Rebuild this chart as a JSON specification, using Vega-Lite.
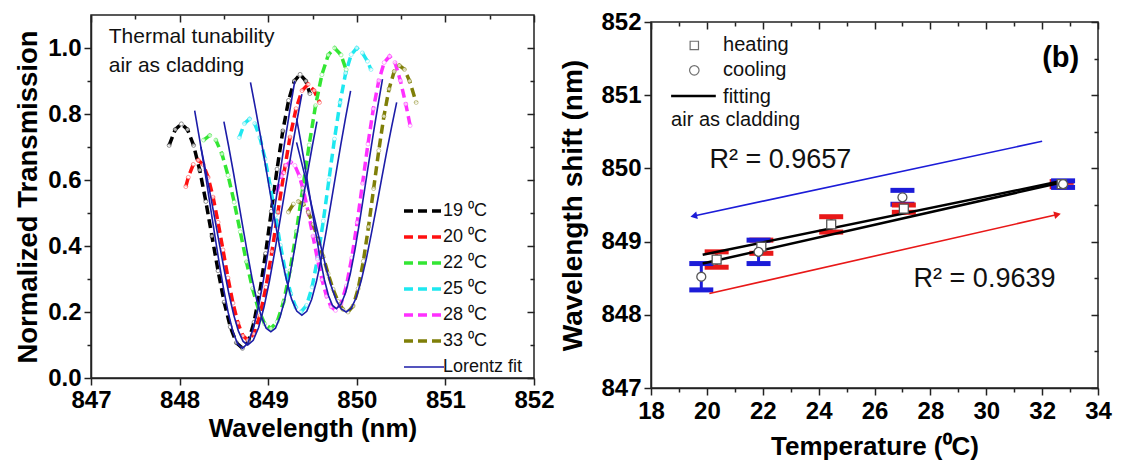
{
  "$schema": "https://vega.github.io/schema/vega-lite/v6.json",
  "padding": {"left": 13, "top": 9, "right": 0, "bottom": 0},
  "spacing": 4,
  "resolve": {"scale": {"color": "independent", "shape": "independent", "stroke": "independent"}, "legend": {"color": "independent"}},
  "datasets": {
    "spectra": [
      {"s":"19 ⁰C","c":"d19","w":847.882,"t":0.705},{"s":"19 ⁰C","c":"d19","w":847.951,"t":0.753},{"s":"19 ⁰C","c":"d19","w":848.020,"t":0.770},{"s":"19 ⁰C","c":"d19","w":848.089,"t":0.753},{"s":"19 ⁰C","c":"d19","w":848.158,"t":0.705},{"s":"19 ⁰C","c":"d19","w":848.227,"t":0.630},{"s":"19 ⁰C","c":"d19","w":848.296,"t":0.535},{"s":"19 ⁰C","c":"d19","w":848.365,"t":0.430},{"s":"19 ⁰C","c":"d19","w":848.434,"t":0.325},{"s":"19 ⁰C","c":"d19","w":848.503,"t":0.230},{"s":"19 ⁰C","c":"d19","w":848.572,"t":0.155},{"s":"19 ⁰C","c":"d19","w":848.641,"t":0.107},{"s":"19 ⁰C","c":"d19","w":848.710,"t":0.090},{"s":"19 ⁰C","c":"d19","w":848.775,"t":0.110},{"s":"19 ⁰C","c":"d19","w":848.840,"t":0.169},{"s":"19 ⁰C","c":"d19","w":848.905,"t":0.261},{"s":"19 ⁰C","c":"d19","w":848.970,"t":0.377},{"s":"19 ⁰C","c":"d19","w":849.035,"t":0.505},{"s":"19 ⁰C","c":"d19","w":849.100,"t":0.633},{"s":"19 ⁰C","c":"d19","w":849.165,"t":0.749},{"s":"19 ⁰C","c":"d19","w":849.230,"t":0.841},{"s":"19 ⁰C","c":"d19","w":849.295,"t":0.900},{"s":"19 ⁰C","c":"d19","w":849.360,"t":0.920},{"s":"19 ⁰C","c":"d19","w":849.425,"t":0.900},{"s":"19 ⁰C","c":"d19","w":849.470,"t":0.862},
      {"s":"20 ⁰C","c":"d20","w":848.070,"t":0.580},{"s":"20 ⁰C","c":"d20","w":848.098,"t":0.608},{"s":"20 ⁰C","c":"d20","w":848.154,"t":0.647},{"s":"20 ⁰C","c":"d20","w":848.210,"t":0.660},{"s":"20 ⁰C","c":"d20","w":848.266,"t":0.647},{"s":"20 ⁰C","c":"d20","w":848.322,"t":0.608},{"s":"20 ⁰C","c":"d20","w":848.378,"t":0.548},{"s":"20 ⁰C","c":"d20","w":848.434,"t":0.472},{"s":"20 ⁰C","c":"d20","w":848.490,"t":0.388},{"s":"20 ⁰C","c":"d20","w":848.546,"t":0.303},{"s":"20 ⁰C","c":"d20","w":848.602,"t":0.227},{"s":"20 ⁰C","c":"d20","w":848.658,"t":0.167},{"s":"20 ⁰C","c":"d20","w":848.714,"t":0.128},{"s":"20 ⁰C","c":"d20","w":848.770,"t":0.115},{"s":"20 ⁰C","c":"d20","w":848.838,"t":0.134},{"s":"20 ⁰C","c":"d20","w":848.906,"t":0.189},{"s":"20 ⁰C","c":"d20","w":848.974,"t":0.275},{"s":"20 ⁰C","c":"d20","w":849.042,"t":0.383},{"s":"20 ⁰C","c":"d20","w":849.110,"t":0.503},{"s":"20 ⁰C","c":"d20","w":849.178,"t":0.622},{"s":"20 ⁰C","c":"d20","w":849.246,"t":0.730},{"s":"20 ⁰C","c":"d20","w":849.314,"t":0.816},{"s":"20 ⁰C","c":"d20","w":849.382,"t":0.871},{"s":"20 ⁰C","c":"d20","w":849.450,"t":0.890},{"s":"20 ⁰C","c":"d20","w":849.518,"t":0.871},{"s":"20 ⁰C","c":"d20","w":849.579,"t":0.835},
      {"s":"22 ⁰C","c":"d22","w":848.271,"t":0.721},{"s":"22 ⁰C","c":"d22","w":848.340,"t":0.735},{"s":"22 ⁰C","c":"d22","w":848.409,"t":0.721},{"s":"22 ⁰C","c":"d22","w":848.478,"t":0.679},{"s":"22 ⁰C","c":"d22","w":848.547,"t":0.614},{"s":"22 ⁰C","c":"d22","w":848.616,"t":0.533},{"s":"22 ⁰C","c":"d22","w":848.685,"t":0.443},{"s":"22 ⁰C","c":"d22","w":848.754,"t":0.352},{"s":"22 ⁰C","c":"d22","w":848.823,"t":0.271},{"s":"22 ⁰C","c":"d22","w":848.892,"t":0.206},{"s":"22 ⁰C","c":"d22","w":848.961,"t":0.164},{"s":"22 ⁰C","c":"d22","w":849.030,"t":0.150},{"s":"22 ⁰C","c":"d22","w":849.102,"t":0.171},{"s":"22 ⁰C","c":"d22","w":849.174,"t":0.231},{"s":"22 ⁰C","c":"d22","w":849.246,"t":0.325},{"s":"22 ⁰C","c":"d22","w":849.318,"t":0.444},{"s":"22 ⁰C","c":"d22","w":849.390,"t":0.575},{"s":"22 ⁰C","c":"d22","w":849.462,"t":0.706},{"s":"22 ⁰C","c":"d22","w":849.534,"t":0.825},{"s":"22 ⁰C","c":"d22","w":849.606,"t":0.919},{"s":"22 ⁰C","c":"d22","w":849.678,"t":0.979},{"s":"22 ⁰C","c":"d22","w":849.750,"t":1.000},{"s":"22 ⁰C","c":"d22","w":849.822,"t":0.979},{"s":"22 ⁰C","c":"d22","w":849.880,"t":0.934},
      {"s":"25 ⁰C","c":"d25","w":848.674,"t":0.729},{"s":"25 ⁰C","c":"d25","w":848.732,"t":0.771},{"s":"25 ⁰C","c":"d25","w":848.790,"t":0.785},{"s":"25 ⁰C","c":"d25","w":848.848,"t":0.771},{"s":"25 ⁰C","c":"d25","w":848.906,"t":0.729},{"s":"25 ⁰C","c":"d25","w":848.964,"t":0.664},{"s":"25 ⁰C","c":"d25","w":849.022,"t":0.583},{"s":"25 ⁰C","c":"d25","w":849.080,"t":0.493},{"s":"25 ⁰C","c":"d25","w":849.138,"t":0.402},{"s":"25 ⁰C","c":"d25","w":849.196,"t":0.321},{"s":"25 ⁰C","c":"d25","w":849.254,"t":0.256},{"s":"25 ⁰C","c":"d25","w":849.312,"t":0.214},{"s":"25 ⁰C","c":"d25","w":849.370,"t":0.200},{"s":"25 ⁰C","c":"d25","w":849.433,"t":0.220},{"s":"25 ⁰C","c":"d25","w":849.496,"t":0.276},{"s":"25 ⁰C","c":"d25","w":849.559,"t":0.365},{"s":"25 ⁰C","c":"d25","w":849.622,"t":0.476},{"s":"25 ⁰C","c":"d25","w":849.685,"t":0.600},{"s":"25 ⁰C","c":"d25","w":849.748,"t":0.724},{"s":"25 ⁰C","c":"d25","w":849.811,"t":0.835},{"s":"25 ⁰C","c":"d25","w":849.874,"t":0.924},{"s":"25 ⁰C","c":"d25","w":849.937,"t":0.980},{"s":"25 ⁰C","c":"d25","w":850.000,"t":1.000},{"s":"25 ⁰C","c":"d25","w":850.063,"t":0.985},{"s":"25 ⁰C","c":"d25","w":850.120,"t":0.960},{"s":"25 ⁰C","c":"d25","w":850.160,"t":0.935},
      {"s":"28 ⁰C","c":"d28","w":849.097,"t":0.562},{"s":"28 ⁰C","c":"d28","w":849.148,"t":0.612},{"s":"28 ⁰C","c":"d28","w":849.199,"t":0.644},{"s":"28 ⁰C","c":"d28","w":849.250,"t":0.655},{"s":"28 ⁰C","c":"d28","w":849.301,"t":0.644},{"s":"28 ⁰C","c":"d28","w":849.352,"t":0.612},{"s":"28 ⁰C","c":"d28","w":849.403,"t":0.562},{"s":"28 ⁰C","c":"d28","w":849.454,"t":0.500},{"s":"28 ⁰C","c":"d28","w":849.505,"t":0.430},{"s":"28 ⁰C","c":"d28","w":849.556,"t":0.360},{"s":"28 ⁰C","c":"d28","w":849.607,"t":0.298},{"s":"28 ⁰C","c":"d28","w":849.658,"t":0.248},{"s":"28 ⁰C","c":"d28","w":849.709,"t":0.216},{"s":"28 ⁰C","c":"d28","w":849.760,"t":0.205},{"s":"28 ⁰C","c":"d28","w":849.821,"t":0.224},{"s":"28 ⁰C","c":"d28","w":849.882,"t":0.279},{"s":"28 ⁰C","c":"d28","w":849.943,"t":0.364},{"s":"28 ⁰C","c":"d28","w":850.004,"t":0.471},{"s":"28 ⁰C","c":"d28","w":850.065,"t":0.590},{"s":"28 ⁰C","c":"d28","w":850.126,"t":0.709},{"s":"28 ⁰C","c":"d28","w":850.187,"t":0.816},{"s":"28 ⁰C","c":"d28","w":850.248,"t":0.901},{"s":"28 ⁰C","c":"d28","w":850.309,"t":0.956},{"s":"28 ⁰C","c":"d28","w":850.370,"t":0.975},{"s":"28 ⁰C","c":"d28","w":850.431,"t":0.956},{"s":"28 ⁰C","c":"d28","w":850.492,"t":0.901},{"s":"28 ⁰C","c":"d28","w":850.553,"t":0.830},{"s":"28 ⁰C","c":"d28","w":850.602,"t":0.765},
      {"s":"33 ⁰C","c":"d33","w":849.228,"t":0.503},{"s":"33 ⁰C","c":"d33","w":849.284,"t":0.527},{"s":"33 ⁰C","c":"d33","w":849.340,"t":0.535},{"s":"33 ⁰C","c":"d33","w":849.396,"t":0.527},{"s":"33 ⁰C","c":"d33","w":849.452,"t":0.503},{"s":"33 ⁰C","c":"d33","w":849.508,"t":0.466},{"s":"33 ⁰C","c":"d33","w":849.564,"t":0.419},{"s":"33 ⁰C","c":"d33","w":849.620,"t":0.368},{"s":"33 ⁰C","c":"d33","w":849.676,"t":0.316},{"s":"33 ⁰C","c":"d33","w":849.732,"t":0.269},{"s":"33 ⁰C","c":"d33","w":849.788,"t":0.232},{"s":"33 ⁰C","c":"d33","w":849.844,"t":0.208},{"s":"33 ⁰C","c":"d33","w":849.900,"t":0.200},{"s":"33 ⁰C","c":"d33","w":849.958,"t":0.218},{"s":"33 ⁰C","c":"d33","w":850.016,"t":0.271},{"s":"33 ⁰C","c":"d33","w":850.074,"t":0.354},{"s":"33 ⁰C","c":"d33","w":850.132,"t":0.458},{"s":"33 ⁰C","c":"d33","w":850.190,"t":0.574},{"s":"33 ⁰C","c":"d33","w":850.248,"t":0.689},{"s":"33 ⁰C","c":"d33","w":850.306,"t":0.793},{"s":"33 ⁰C","c":"d33","w":850.364,"t":0.876},{"s":"33 ⁰C","c":"d33","w":850.422,"t":0.929},{"s":"33 ⁰C","c":"d33","w":850.480,"t":0.947},{"s":"33 ⁰C","c":"d33","w":850.538,"t":0.935},{"s":"33 ⁰C","c":"d33","w":850.596,"t":0.900},{"s":"33 ⁰C","c":"d33","w":850.670,"t":0.835},
      {"s":"Lorentz fit","c":"f19","w":848.170,"t":0.810},{"s":"Lorentz fit","c":"f19","w":848.224,"t":0.726},{"s":"Lorentz fit","c":"f19","w":848.278,"t":0.639},{"s":"Lorentz fit","c":"f19","w":848.332,"t":0.546},{"s":"Lorentz fit","c":"f19","w":848.386,"t":0.452},{"s":"Lorentz fit","c":"f19","w":848.440,"t":0.360},{"s":"Lorentz fit","c":"f19","w":848.494,"t":0.274},{"s":"Lorentz fit","c":"f19","w":848.548,"t":0.199},{"s":"Lorentz fit","c":"f19","w":848.602,"t":0.140},{"s":"Lorentz fit","c":"f19","w":848.656,"t":0.103},{"s":"Lorentz fit","c":"f19","w":848.710,"t":0.090},{"s":"Lorentz fit","c":"f19","w":848.769,"t":0.105},{"s":"Lorentz fit","c":"f19","w":848.828,"t":0.147},{"s":"Lorentz fit","c":"f19","w":848.887,"t":0.212},{"s":"Lorentz fit","c":"f19","w":848.946,"t":0.297},{"s":"Lorentz fit","c":"f19","w":849.005,"t":0.394},{"s":"Lorentz fit","c":"f19","w":849.064,"t":0.497},{"s":"Lorentz fit","c":"f19","w":849.123,"t":0.603},{"s":"Lorentz fit","c":"f19","w":849.182,"t":0.707},{"s":"Lorentz fit","c":"f19","w":849.241,"t":0.806},{"s":"Lorentz fit","c":"f19","w":849.300,"t":0.900},
      {"s":"Lorentz fit","c":"f20","w":848.240,"t":0.700},{"s":"Lorentz fit","c":"f20","w":848.293,"t":0.630},{"s":"Lorentz fit","c":"f20","w":848.346,"t":0.557},{"s":"Lorentz fit","c":"f20","w":848.399,"t":0.480},{"s":"Lorentz fit","c":"f20","w":848.452,"t":0.402},{"s":"Lorentz fit","c":"f20","w":848.505,"t":0.325},{"s":"Lorentz fit","c":"f20","w":848.558,"t":0.253},{"s":"Lorentz fit","c":"f20","w":848.611,"t":0.191},{"s":"Lorentz fit","c":"f20","w":848.664,"t":0.142},{"s":"Lorentz fit","c":"f20","w":848.717,"t":0.111},{"s":"Lorentz fit","c":"f20","w":848.770,"t":0.100},{"s":"Lorentz fit","c":"f20","w":848.831,"t":0.114},{"s":"Lorentz fit","c":"f20","w":848.892,"t":0.153},{"s":"Lorentz fit","c":"f20","w":848.953,"t":0.215},{"s":"Lorentz fit","c":"f20","w":849.014,"t":0.294},{"s":"Lorentz fit","c":"f20","w":849.075,"t":0.385},{"s":"Lorentz fit","c":"f20","w":849.136,"t":0.482},{"s":"Lorentz fit","c":"f20","w":849.197,"t":0.581},{"s":"Lorentz fit","c":"f20","w":849.258,"t":0.679},{"s":"Lorentz fit","c":"f20","w":849.319,"t":0.772},{"s":"Lorentz fit","c":"f20","w":849.380,"t":0.860},
      {"s":"Lorentz fit","c":"f22","w":848.500,"t":0.777},{"s":"Lorentz fit","c":"f22","w":848.553,"t":0.703},{"s":"Lorentz fit","c":"f22","w":848.606,"t":0.625},{"s":"Lorentz fit","c":"f22","w":848.659,"t":0.543},{"s":"Lorentz fit","c":"f22","w":848.712,"t":0.460},{"s":"Lorentz fit","c":"f22","w":848.765,"t":0.379},{"s":"Lorentz fit","c":"f22","w":848.818,"t":0.302},{"s":"Lorentz fit","c":"f22","w":848.871,"t":0.236},{"s":"Lorentz fit","c":"f22","w":848.924,"t":0.185},{"s":"Lorentz fit","c":"f22","w":848.977,"t":0.151},{"s":"Lorentz fit","c":"f22","w":849.030,"t":0.140},{"s":"Lorentz fit","c":"f22","w":849.082,"t":0.151},{"s":"Lorentz fit","c":"f22","w":849.134,"t":0.185},{"s":"Lorentz fit","c":"f22","w":849.186,"t":0.236},{"s":"Lorentz fit","c":"f22","w":849.238,"t":0.302},{"s":"Lorentz fit","c":"f22","w":849.290,"t":0.379},{"s":"Lorentz fit","c":"f22","w":849.342,"t":0.460},{"s":"Lorentz fit","c":"f22","w":849.394,"t":0.543},{"s":"Lorentz fit","c":"f22","w":849.446,"t":0.625},{"s":"Lorentz fit","c":"f22","w":849.498,"t":0.703},{"s":"Lorentz fit","c":"f22","w":849.550,"t":0.777},
      {"s":"Lorentz fit","c":"f25","w":848.800,"t":0.896},{"s":"Lorentz fit","c":"f25","w":848.858,"t":0.814},{"s":"Lorentz fit","c":"f25","w":848.916,"t":0.728},{"s":"Lorentz fit","c":"f25","w":848.974,"t":0.637},{"s":"Lorentz fit","c":"f25","w":849.032,"t":0.545},{"s":"Lorentz fit","c":"f25","w":849.090,"t":0.455},{"s":"Lorentz fit","c":"f25","w":849.148,"t":0.370},{"s":"Lorentz fit","c":"f25","w":849.206,"t":0.297},{"s":"Lorentz fit","c":"f25","w":849.264,"t":0.239},{"s":"Lorentz fit","c":"f25","w":849.322,"t":0.203},{"s":"Lorentz fit","c":"f25","w":849.380,"t":0.190},{"s":"Lorentz fit","c":"f25","w":849.435,"t":0.202},{"s":"Lorentz fit","c":"f25","w":849.490,"t":0.238},{"s":"Lorentz fit","c":"f25","w":849.545,"t":0.293},{"s":"Lorentz fit","c":"f25","w":849.600,"t":0.363},{"s":"Lorentz fit","c":"f25","w":849.655,"t":0.445},{"s":"Lorentz fit","c":"f25","w":849.710,"t":0.532},{"s":"Lorentz fit","c":"f25","w":849.765,"t":0.620},{"s":"Lorentz fit","c":"f25","w":849.820,"t":0.708},{"s":"Lorentz fit","c":"f25","w":849.875,"t":0.791},{"s":"Lorentz fit","c":"f25","w":849.930,"t":0.870},
      {"s":"Lorentz fit","c":"f28","w":849.320,"t":0.787},{"s":"Lorentz fit","c":"f28","w":849.365,"t":0.720},{"s":"Lorentz fit","c":"f28","w":849.410,"t":0.650},{"s":"Lorentz fit","c":"f28","w":849.455,"t":0.575},{"s":"Lorentz fit","c":"f28","w":849.500,"t":0.500},{"s":"Lorentz fit","c":"f28","w":849.545,"t":0.426},{"s":"Lorentz fit","c":"f28","w":849.590,"t":0.357},{"s":"Lorentz fit","c":"f28","w":849.635,"t":0.297},{"s":"Lorentz fit","c":"f28","w":849.680,"t":0.250},{"s":"Lorentz fit","c":"f28","w":849.725,"t":0.220},{"s":"Lorentz fit","c":"f28","w":849.770,"t":0.210},{"s":"Lorentz fit","c":"f28","w":849.822,"t":0.223},{"s":"Lorentz fit","c":"f28","w":849.874,"t":0.259},{"s":"Lorentz fit","c":"f28","w":849.926,"t":0.315},{"s":"Lorentz fit","c":"f28","w":849.978,"t":0.387},{"s":"Lorentz fit","c":"f28","w":850.030,"t":0.471},{"s":"Lorentz fit","c":"f28","w":850.082,"t":0.560},{"s":"Lorentz fit","c":"f28","w":850.134,"t":0.651},{"s":"Lorentz fit","c":"f28","w":850.186,"t":0.740},{"s":"Lorentz fit","c":"f28","w":850.238,"t":0.825},{"s":"Lorentz fit","c":"f28","w":850.290,"t":0.906},
      {"s":"Lorentz fit","c":"f33","w":849.320,"t":0.714},{"s":"Lorentz fit","c":"f33","w":849.376,"t":0.654},{"s":"Lorentz fit","c":"f33","w":849.432,"t":0.592},{"s":"Lorentz fit","c":"f33","w":849.488,"t":0.525},{"s":"Lorentz fit","c":"f33","w":849.544,"t":0.459},{"s":"Lorentz fit","c":"f33","w":849.600,"t":0.393},{"s":"Lorentz fit","c":"f33","w":849.656,"t":0.331},{"s":"Lorentz fit","c":"f33","w":849.712,"t":0.278},{"s":"Lorentz fit","c":"f33","w":849.768,"t":0.236},{"s":"Lorentz fit","c":"f33","w":849.824,"t":0.209},{"s":"Lorentz fit","c":"f33","w":849.880,"t":0.200},{"s":"Lorentz fit","c":"f33","w":849.937,"t":0.211},{"s":"Lorentz fit","c":"f33","w":849.994,"t":0.244},{"s":"Lorentz fit","c":"f33","w":850.051,"t":0.296},{"s":"Lorentz fit","c":"f33","w":850.108,"t":0.362},{"s":"Lorentz fit","c":"f33","w":850.165,"t":0.438},{"s":"Lorentz fit","c":"f33","w":850.222,"t":0.519},{"s":"Lorentz fit","c":"f33","w":850.279,"t":0.602},{"s":"Lorentz fit","c":"f33","w":850.336,"t":0.684},{"s":"Lorentz fit","c":"f33","w":850.393,"t":0.761},{"s":"Lorentz fit","c":"f33","w":850.450,"t":0.835}
    ],
    "errs": [
      {"m":"heating","temp":20.35,"lo":848.65,"hi":848.86,"mean":848.755},
      {"m":"heating","temp":21.95,"lo":848.84,"hi":849.02,"mean":848.93},
      {"m":"heating","temp":24.45,"lo":849.13,"hi":849.34,"mean":849.235},
      {"m":"heating","temp":27.05,"lo":849.40,"hi":849.50,"mean":849.45},
      {"m":"heating","temp":32.7,"lo":849.75,"hi":849.82,"mean":849.785},
      {"m":"cooling","temp":19.8,"lo":848.34,"hi":848.70,"mean":848.52},
      {"m":"cooling","temp":21.85,"lo":848.70,"hi":849.02,"mean":848.86},
      {"m":"cooling","temp":27.0,"lo":849.51,"hi":849.70,"mean":849.605},
      {"m":"cooling","temp":32.75,"lo":849.74,"hi":849.83,"mean":849.785}
    ],
    "fits": [
      {"f":"heating","temp":19.85,"w":848.70},{"f":"heating","temp":32.73,"w":849.81},
      {"f":"cooling","temp":19.85,"w":848.82},{"f":"cooling","temp":32.73,"w":849.83}
    ],
    "arrows": [
      {"m":"cooling","t0":32.0,"w0":850.37,"t1":19.53,"w1":849.35},
      {"m":"heating","t0":20.09,"w0":848.29,"t1":32.55,"w1":849.37}
    ]
  },
  "hconcat": [
    {
      "width": 443,
      "height": 363,
      "data": {"name": "spectra"},
      "resolve": {"axis": {"x": "independent", "y": "independent"}},
      "layer": [
        {
          "transform": [{"filter": "datum.s != 'Lorentz fit'"}],
          "mark": {"type": "line", "strokeWidth": 3.5, "strokeDash": [9, 5]},
          "encoding": {
            "x": {"field": "w", "type": "quantitative", "scale": {"domain": [847, 852], "nice": false, "zero": false},
              "axis": {"orient": "bottom", "values": [847,847.5,848,848.5,849,849.5,850,850.5,851,851.5,852], "format": "d", "labelExpr": "datum.value % 1 == 0 ? datum.label : ''", "tickSize": {"condition": {"test": "datum.value % 1 != 0", "value": 4}, "value": 7}, "labelPadding": 3, "labelOverlap": false, "labelFlush": false, "title": "Wavelength (nm)", "titleFontSize": 26, "titlePadding": 3}},
            "y": {"field": "t", "type": "quantitative", "scale": {"domain": [0, 1.1], "nice": false, "zero": false},
              "axis": {"orient": "left", "values": [0,0.1,0.2,0.3,0.4,0.5,0.6,0.7,0.8,0.9,1.0], "labelExpr": "round(datum.value*10) % 2 == 0 ? format(datum.value, '.1f') : ''", "tickSize": {"condition": {"test": "round(datum.value*10) % 2 != 0", "value": 4}, "value": 7}, "labelPadding": 3, "labelOverlap": false, "title": "Normalized Transmission", "titleFontSize": 27.5, "titlePadding": 5}},
            "color": {"field": "s", "type": "nominal",
              "scale": {"domain": ["19 ⁰C","20 ⁰C","22 ⁰C","25 ⁰C","28 ⁰C","33 ⁰C","Lorentz fit"], "range": ["#000000","#ff1010","#33e633","#1ee8f0","#ff30ff","#7f7f08","#1c1ca8"]},
              "legend": {"title": null, "orient": "none", "legendX": 324, "legendY": 187, "symbolType": "M-1.6,0L1.6,0", "symbolSize": 625, "symbolStrokeWidth": 3.5, "labelFontSize": 18, "labelFont": "Liberation Sans", "labelColor": "#111", "labelOffset": 10, "rowPadding": 8, "padding": 0,
                "encode": {"symbols": {"update": {"strokeDash": {"signal": "datum.value == 'Lorentz fit' ? [1,0] : [9,5]"}, "strokeWidth": {"signal": "datum.value == 'Lorentz fit' ? 1.5 : 3.5"}}}}}},
            "detail": {"field": "c"}
          }
        },
        {
          "transform": [{"filter": "datum.s != 'Lorentz fit'"}],
          "mark": {"type": "point", "filled": true, "fill": "#ffffff", "size": 16, "strokeWidth": 1, "strokeOpacity": 0.6},
          "encoding": {
            "x": {"field": "w", "type": "quantitative", "axis": null},
            "y": {"field": "t", "type": "quantitative", "axis": null},
            "stroke": {"field": "s", "type": "nominal", "legend": null,
              "scale": {"domain": ["19 ⁰C","20 ⁰C","22 ⁰C","25 ⁰C","28 ⁰C","33 ⁰C","Lorentz fit"], "range": ["#000000","#ff1010","#33e633","#1ee8f0","#ff30ff","#7f7f08","#1c1ca8"]}}
          }
        },
        {
          "transform": [{"filter": "datum.s == 'Lorentz fit'"}],
          "mark": {"type": "line", "strokeWidth": 1.6},
          "encoding": {
            "x": {"field": "w", "type": "quantitative", "axis": null},
            "y": {"field": "t", "type": "quantitative", "axis": null},
            "color": {"field": "s", "type": "nominal"},
            "detail": {"field": "c"}
          }
        },
        {
          "data": {"values": [{}]},
          "mark": {"type": "text", "text": ["Thermal tunability", "air as cladding"], "align": "left", "baseline": "alphabetic", "fontSize": 21, "lineHeight": 29, "font": "Liberation Sans", "color": "#111"},
          "encoding": {
            "x": {"datum": 847.2, "type": "quantitative",
              "axis": {"orient": "top", "values": [847,847.5,848,848.5,849,849.5,850,850.5,851,851.5,852], "labels": false, "domain": false, "title": null, "tickSize": {"condition": {"test": "datum.value % 1 != 0", "value": -4}, "value": -7}}},
            "y": {"datum": 1.015, "type": "quantitative",
              "axis": {"orient": "right", "values": [0,0.1,0.2,0.3,0.4,0.5,0.6,0.7,0.8,0.9,1.0], "labels": false, "domain": false, "title": null, "tickSize": {"condition": {"test": "round(datum.value*10) % 2 != 0", "value": -4}, "value": -7}}}
          }
        }
      ]
    },
    {
      "vconcat": [
        {
          "width": 447,
          "height": 1,
          "view": {"stroke": null},
          "data": {"values": [{}]},
          "mark": {"type": "text", "text": ""}
        },
        {
          "width": 447,
          "height": 366,
          "resolve": {"axis": {"x": "independent", "y": "independent"}},
          "layer": [
            {
              "data": {"name": "errs"},
              "mark": {"type": "rule", "strokeWidth": 3},
              "encoding": {
                "x": {"field": "temp", "type": "quantitative", "scale": {"domain": [18, 34], "nice": false, "zero": false},
                  "axis": {"orient": "bottom", "values": [18,19,20,21,22,23,24,25,26,27,28,29,30,31,32,33,34], "labelExpr": "datum.value % 2 == 0 ? datum.label : ''", "tickSize": {"condition": {"test": "datum.value % 2 != 0", "value": 4}, "value": 7}, "labelPadding": 4, "labelOverlap": false, "labelFlush": false, "title": "Temperature (⁰C)", "titleFontSize": 26, "titlePadding": 10}},
                "y": {"field": "lo", "type": "quantitative", "scale": {"domain": [847, 852], "nice": false, "zero": false},
                  "axis": {"orient": "left", "values": [847,847.5,848,848.5,849,849.5,850,850.5,851,851.5,852], "format": "d", "labelExpr": "datum.value % 1 == 0 ? datum.label : ''", "tickSize": {"condition": {"test": "datum.value % 1 != 0", "value": 4}, "value": 7}, "labelPadding": 3, "labelOverlap": false, "labelFlush": false, "title": "Wavelength shift (nm)", "titleFontSize": 28, "titlePadding": 13}},
                "y2": {"field": "hi"},
                "color": {"field": "m", "type": "nominal", "scale": {"domain": ["heating", "cooling"], "range": ["#e81818", "#1c1cd8"]}, "legend": null}
              }
            },
            {
              "data": {"name": "errs"},
              "mark": {"type": "tick", "orient": "horizontal", "size": 24, "thickness": 5, "opacity": 1},
              "encoding": {
                "x": {"field": "temp", "type": "quantitative", "axis": null},
                "y": {"field": "lo", "type": "quantitative", "axis": null},
                "color": {"field": "m", "type": "nominal", "legend": null}
              }
            },
            {
              "data": {"name": "errs"},
              "mark": {"type": "tick", "orient": "horizontal", "size": 24, "thickness": 5, "opacity": 1},
              "encoding": {
                "x": {"field": "temp", "type": "quantitative", "axis": null},
                "y": {"field": "hi", "type": "quantitative", "axis": null},
                "color": {"field": "m", "type": "nominal", "legend": null}
              }
            },
            {
              "data": {"name": "fits"},
              "mark": {"type": "line", "color": "#000000", "strokeWidth": 2.5},
              "encoding": {
                "x": {"field": "temp", "type": "quantitative", "axis": null},
                "y": {"field": "w", "type": "quantitative", "axis": null},
                "detail": {"field": "f"}
              }
            },
            {
              "data": {"name": "errs"},
              "mark": {"type": "point", "filled": true, "fill": "#ffffff", "stroke": "#555555", "strokeWidth": 1.3, "size": 80, "opacity": 1},
              "encoding": {
                "x": {"field": "temp", "type": "quantitative", "axis": null},
                "y": {"field": "mean", "type": "quantitative", "axis": null},
                "shape": {"field": "m", "type": "nominal", "scale": {"domain": ["heating", "cooling"], "range": ["square", "circle"]}, "legend": null}
              }
            },
            {
              "data": {"name": "arrows"},
              "mark": {"type": "rule", "strokeWidth": 1.6},
              "encoding": {
                "x": {"field": "t0", "type": "quantitative", "axis": null},
                "y": {"field": "w0", "type": "quantitative", "axis": null},
                "x2": {"field": "t1"},
                "y2": {"field": "w1"},
                "color": {"field": "m", "type": "nominal", "legend": null}
              }
            },
            {
              "data": {"name": "arrows"},
              "transform": [{"filter": "datum.m == 'heating'"}],
              "mark": {"type": "point", "shape": "triangle-right", "filled": true, "size": 60, "angle": 347, "opacity": 1},
              "encoding": {
                "x": {"field": "t1", "type": "quantitative", "axis": null},
                "y": {"field": "w1", "type": "quantitative", "axis": null},
                "color": {"field": "m", "type": "nominal", "legend": null}
              }
            },
            {
              "data": {"name": "arrows"},
              "transform": [{"filter": "datum.m == 'cooling'"}],
              "mark": {"type": "point", "shape": "triangle-left", "filled": true, "size": 60, "angle": 348, "opacity": 1},
              "encoding": {
                "x": {"field": "t1", "type": "quantitative", "axis": null},
                "y": {"field": "w1", "type": "quantitative", "axis": null},
                "color": {"field": "m", "type": "nominal", "legend": null}
              }
            },
            {
              "data": {"values": [{}]},
              "mark": {"type": "text", "text": "R² = 0.9657", "align": "left", "baseline": "alphabetic", "fontSize": 27, "font": "Liberation Sans", "color": "#111"},
              "encoding": {
                "x": {"datum": 20.09, "type": "quantitative", "axis": null},
                "y": {"datum": 850.0, "type": "quantitative", "axis": null}
              }
            },
            {
              "data": {"values": [{}]},
              "mark": {"type": "text", "text": "R² = 0.9639", "align": "left", "baseline": "alphabetic", "fontSize": 27, "font": "Liberation Sans", "color": "#111"},
              "encoding": {
                "x": {"datum": 27.4, "type": "quantitative", "axis": null},
                "y": {"datum": 848.38, "type": "quantitative", "axis": null}
              }
            },
            {
              "data": {"values": [{}]},
              "mark": {"type": "text", "text": "(b)", "align": "left", "baseline": "alphabetic", "fontSize": 29, "fontWeight": "bold", "font": "Liberation Sans", "color": "#000"},
              "encoding": {
                "x": {"datum": 32.0, "type": "quantitative", "axis": null},
                "y": {"datum": 851.39, "type": "quantitative", "axis": null}
              }
            },
            {
              "data": {"values": [{}]},
              "mark": {"type": "point", "shape": "square", "filled": false, "stroke": "#333333", "strokeWidth": 1.2, "size": 70},
              "encoding": {
                "x": {"datum": 19.55, "type": "quantitative", "axis": null},
                "y": {"datum": 851.68, "type": "quantitative", "axis": null}
              }
            },
            {
              "data": {"values": [{}]},
              "mark": {"type": "point", "shape": "circle", "filled": false, "stroke": "#333333", "strokeWidth": 1.2, "size": 90},
              "encoding": {
                "x": {"datum": 19.55, "type": "quantitative", "axis": null},
                "y": {"datum": 851.34, "type": "quantitative", "axis": null}
              }
            },
            {
              "data": {"values": [{}]},
              "mark": {"type": "rule", "color": "#000000", "strokeWidth": 2.5},
              "encoding": {
                "x": {"datum": 18.72, "type": "quantitative", "axis": null},
                "x2": {"datum": 20.32},
                "y": {"datum": 850.99, "type": "quantitative", "axis": null}
              }
            },
            {
              "data": {"values": [{}]},
              "mark": {"type": "text", "text": "heating", "align": "left", "baseline": "middle", "fontSize": 20, "font": "Liberation Sans", "color": "#111"},
              "encoding": {
                "x": {"datum": 20.58, "type": "quantitative", "axis": null},
                "y": {"datum": 851.68, "type": "quantitative", "axis": null}
              }
            },
            {
              "data": {"values": [{}]},
              "mark": {"type": "text", "text": "cooling", "align": "left", "baseline": "middle", "fontSize": 20, "font": "Liberation Sans", "color": "#111"},
              "encoding": {
                "x": {"datum": 20.58, "type": "quantitative", "axis": null},
                "y": {"datum": 851.34, "type": "quantitative", "axis": null}
              }
            },
            {
              "data": {"values": [{}]},
              "mark": {"type": "text", "text": "fitting", "align": "left", "baseline": "middle", "fontSize": 20, "font": "Liberation Sans", "color": "#111"},
              "encoding": {
                "x": {"datum": 20.58, "type": "quantitative", "axis": null},
                "y": {"datum": 850.98, "type": "quantitative", "axis": null}
              }
            },
            {
              "data": {"values": [{}]},
              "mark": {"type": "text", "text": "air as cladding", "align": "left", "baseline": "middle", "fontSize": 20, "font": "Liberation Sans", "color": "#111"},
              "encoding": {
                "x": {"datum": 18.72, "type": "quantitative",
                  "axis": {"orient": "top", "values": [18,19,20,21,22,23,24,25,26,27,28,29,30,31,32,33,34], "labels": false, "domain": false, "title": null, "tickSize": {"condition": {"test": "datum.value % 2 != 0", "value": -4}, "value": -7}}},
                "y": {"datum": 850.66, "type": "quantitative",
                  "axis": {"orient": "right", "values": [847,847.5,848,848.5,849,849.5,850,850.5,851,851.5,852], "labels": false, "domain": false, "title": null, "tickSize": {"condition": {"test": "datum.value % 1 != 0", "value": -4}, "value": -7}}}
              }
            }
          ]
        }
      ],
      "spacing": 6,
      "bounds": "flush"
    }
  ],
  "config": {
    "font": "Liberation Sans",
    "background": "#ffffff",
    "view": {"stroke": "#222222", "strokeWidth": 1.5},
    "axis": {"labelFont": "Liberation Sans", "labelFontWeight": "bold", "labelFontSize": 24, "labelColor": "#000000", "titleFont": "Liberation Sans", "titleFontWeight": "bold", "titleFontSize": 25, "titleColor": "#000000", "domainColor": "#222222", "domainWidth": 1.5, "tickColor": "#222222", "tickWidth": 1.5, "grid": false}
  }
}
